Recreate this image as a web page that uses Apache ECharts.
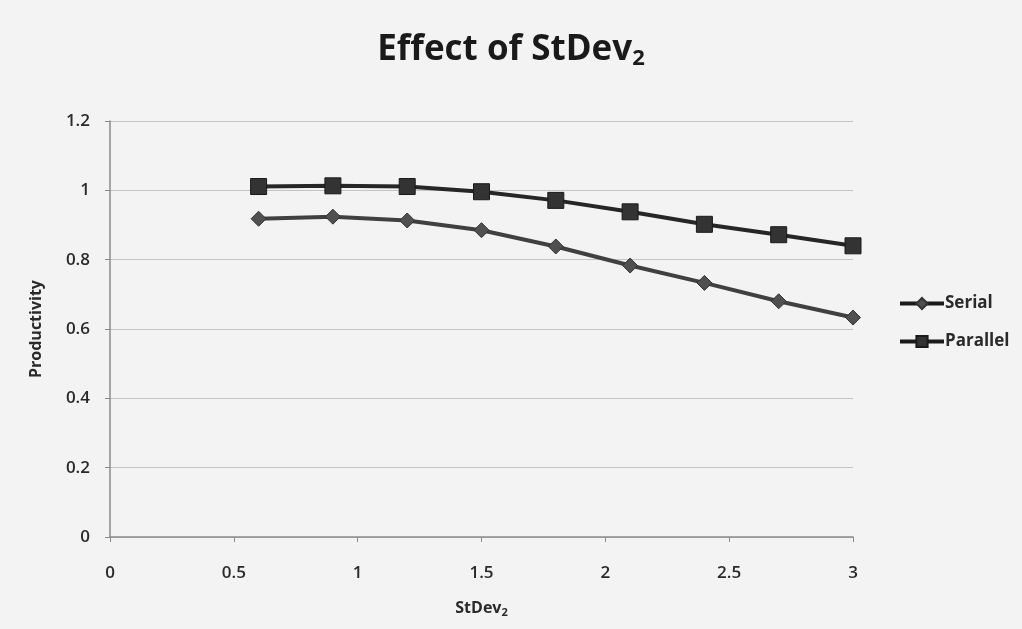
<!DOCTYPE html>
<html>
<head>
<meta charset="utf-8">
<script src="https://cdn.jsdelivr.net/npm/echarts@6/dist/echarts.min.js"></script>
<style>
  html, body { margin: 0; padding: 0; background: #f3f3f3; }
  #chart { width: 1022px; height: 629px; }
</style>
</head>
<body>
<div id="chart"></div>
<script>
// StDev2 settings on the horizontal axis
const stdev2 = [0.6, 0.9, 1.2, 1.5, 1.8, 2.1, 2.4, 2.7, 3.0];
// Productivity for each configuration
const serial = [0.918, 0.924, 0.913, 0.885, 0.838, 0.783, 0.733, 0.680, 0.633];
const parallel = [1.011, 1.013, 1.011, 0.996, 0.971, 0.938, 0.902, 0.872, 0.840];

const font = '"Open Sans", "Liberation Sans", sans-serif';
const diamond = 'path://M0,-1L1,0L0,1L-1,0Z';

const pairs = (xs, ys) => xs.map((x, i) => [x, ys[i]]);

const chart = echarts.init(document.getElementById('chart'));
chart.setOption({
  backgroundColor: '#f3f3f3',
  animation: false,
  title: {
    text: 'Effect of StDev{sub|2}',
    left: 'center',
    top: 25,
    textStyle: {
      fontFamily: font, fontSize: 35, fontWeight: 'bold', color: '#1a1a1a',
      rich: {
        sub: { fontFamily: font, fontSize: 22, fontWeight: 'bold', color: '#1a1a1a', padding: [18, 0, 0, 0] }
      }
    }
  },
  grid: { left: 110, right: 169, top: 121, bottom: 92, containLabel: false },
  legend: {
    orient: 'vertical',
    left: 893,
    top: 290,
    itemWidth: 44,
    itemHeight: 14,
    itemGap: 21,
    lineStyle: { width: 4, color: '#1a1a1a' },
    textStyle: { fontFamily: font, fontSize: 17, fontWeight: 'bold', color: '#2a2a2a', padding: [0, 0, 0, -4] },
    data: ['Serial', 'Parallel']
  },
  xAxis: {
    type: 'value',
    min: 0, max: 3, interval: 0.5,
    name: 'StDev{sub|2}',
    nameLocation: 'middle',
    nameGap: 62,
    nameTextStyle: {
      fontFamily: font, fontSize: 16, fontWeight: 'bold', color: '#2a2a2a',
      rich: { sub: { fontFamily: font, fontSize: 11, fontWeight: 'bold', color: '#2a2a2a', padding: [8, 0, 0, 0] } }
    },
    axisLine: { show: true, lineStyle: { color: '#8a8a8a', width: 1.5 } },
    axisTick: { show: true, inside: false, length: 5, lineStyle: { color: '#8a8a8a' } },
    axisLabel: { fontFamily: font, fontSize: 17, fontWeight: 600, color: '#2a2a2a', margin: 28 },
    splitLine: { show: false }
  },
  yAxis: {
    type: 'value',
    min: 0, max: 1.2, interval: 0.2,
    name: 'Productivity',
    nameLocation: 'middle',
    nameGap: 66,
    nameTextStyle: { fontFamily: font, fontSize: 16, fontWeight: 'bold', color: '#2a2a2a' },
    axisLine: { show: true, lineStyle: { color: '#8a8a8a', width: 1.5 } },
    axisTick: { show: true, inside: false, length: 5, lineStyle: { color: '#8a8a8a' } },
    axisLabel: { fontFamily: font, fontSize: 17, fontWeight: 600, color: '#2a2a2a', margin: 20 },
    splitLine: { show: true, lineStyle: { color: '#c4c4c4', width: 1 } }
  },
  series: [
    {
      name: 'Serial',
      type: 'line',
      data: pairs(stdev2, serial),
      symbol: diamond,
      symbolSize: 15,
      lineStyle: { color: '#404040', width: 4 },
      itemStyle: { color: '#505050', borderColor: '#333', borderWidth: 1 },
      z: 3
    },
    {
      name: 'Parallel',
      type: 'line',
      data: pairs(stdev2, parallel),
      symbol: 'rect',
      symbolSize: 16,
      lineStyle: { color: '#262626', width: 4 },
      itemStyle: { color: '#333', borderColor: '#1a1a1a', borderWidth: 1 },
      z: 4
    }
  ]
});
</script>
</body>
</html>
